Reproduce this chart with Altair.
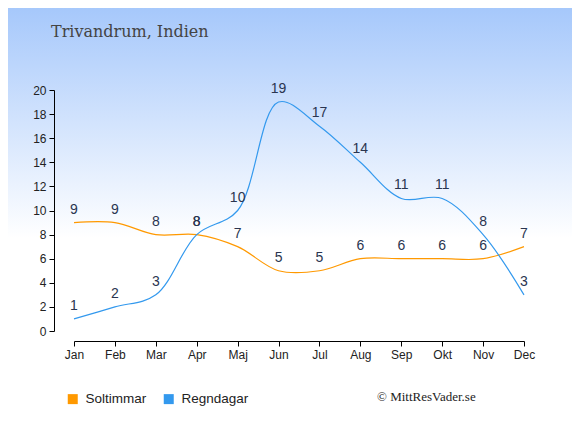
import altair as alt
import pandas as pd

months = ["Jan", "Feb", "Mar", "Apr", "Maj", "Jun", "Jul", "Aug", "Sep", "Okt", "Nov", "Dec"]
sun_hours = [9, 9, 8, 8, 7, 5, 5, 6, 6, 6, 6, 7]
rain_days = [1, 2, 3, 8, 10, 19, 17, 14, 11, 11, 8, 3]
series_names = ["Soltimmar", "Regndagar"]
series_colors = ["#ff9900", "#3399ee"]
title_text = "Trivandrum, Indien"
credit_text = "© MittResVader.se"

rows = []
for m, s in zip(months, sun_hours):
    rows.append({"month": m, "value": s, "series": series_names[0]})
for m, r in zip(months, rain_days):
    rows.append({"month": m, "value": r, "series": series_names[1]})
df = pd.DataFrame(rows)

W, H = 450, 241
PL, PT, PR, PB = 66, 82, 48, 96

x_enc = alt.X("month:N", sort=months,
              scale=alt.Scale(type="point", padding=0),
              axis=alt.Axis(title=None, labelAngle=0, offset=10, grid=False, zindex=2,
                            domainColor="#000", tickColor="#000", tickSize=5,
                            labelColor="#222", labelFontSize=12, labelFont="Liberation Sans",
                            labelPadding=3, labelOverlap=False))
y_enc = alt.Y("value:Q", scale=alt.Scale(domain=[0, 20], nice=False),
              axis=alt.Axis(title=None, values=list(range(0, 21, 2)), offset=20, grid=False, zindex=2,
                            domainColor="#000", tickColor="#000", tickSize=5,
                            labelColor="#222", labelFontSize=12, labelFont="Liberation Sans",
                            labelPadding=3, labelOverlap=False))
color_scale = alt.Scale(domain=series_names, range=series_colors)

bg = alt.Chart(pd.DataFrame({"a": [0]})).mark_rect(
    clip=False,
    color=alt.Gradient(gradient="linear", x1=0, x2=0, y1=0, y2=1,
                       stops=[alt.GradientStop(offset=0, color="#a6c8fb"),
                              alt.GradientStop(offset=0.55, color="#ffffff"),
                              alt.GradientStop(offset=1, color="#ffffff")])
).encode(x=alt.value(-PL), x2=alt.value(W + PR), y=alt.value(-PT), y2=alt.value(H + PB))

base = alt.Chart(df)

lines = base.mark_line(interpolate="catmull-rom", strokeWidth=1.2).encode(
    x=x_enc, y=y_enc,
    color=alt.Color("series:N", scale=color_scale,
                    legend=alt.Legend(title=None, orient="none", direction="horizontal",
                                      legendX=-8, legendY=302, symbolType="square",
                                      symbolSize=1, symbolStrokeWidth=9, zindex=2,
                                      labelFontSize=13.5, labelFont="Liberation Sans",
                                      labelColor="#222", labelOffset=6, columnPadding=3)),
    detail="series:N",
)

labels = base.mark_text(dy=-13, fontSize=14, font="Liberation Sans", color="#2a3550").encode(
    x=x_enc, y=y_enc, text="value:Q"
)

title = alt.Chart(pd.DataFrame({"t": [title_text]})).mark_text(
    align="left", baseline="middle", font="DejaVu Serif", fontSize=16, color="#444"
).encode(x=alt.value(-23), y=alt.value(-58), text="t:N")

credit = alt.Chart(pd.DataFrame({"t": [credit_text]})).mark_text(
    align="left", baseline="middle", font="Liberation Serif", fontSize=13, color="#222"
).encode(x=alt.value(303), y=alt.value(307), text="t:N")

chart = alt.layer(bg, lines, labels, title, credit).properties(
    width=W, height=H,
    padding={"left": PL, "top": PT, "right": PR, "bottom": PB},
    autosize=alt.AutoSizeParams(type="none"),
).configure_view(stroke=None)

chart.save("out.html", embed_options={"renderer": "svg", "actions": False})
